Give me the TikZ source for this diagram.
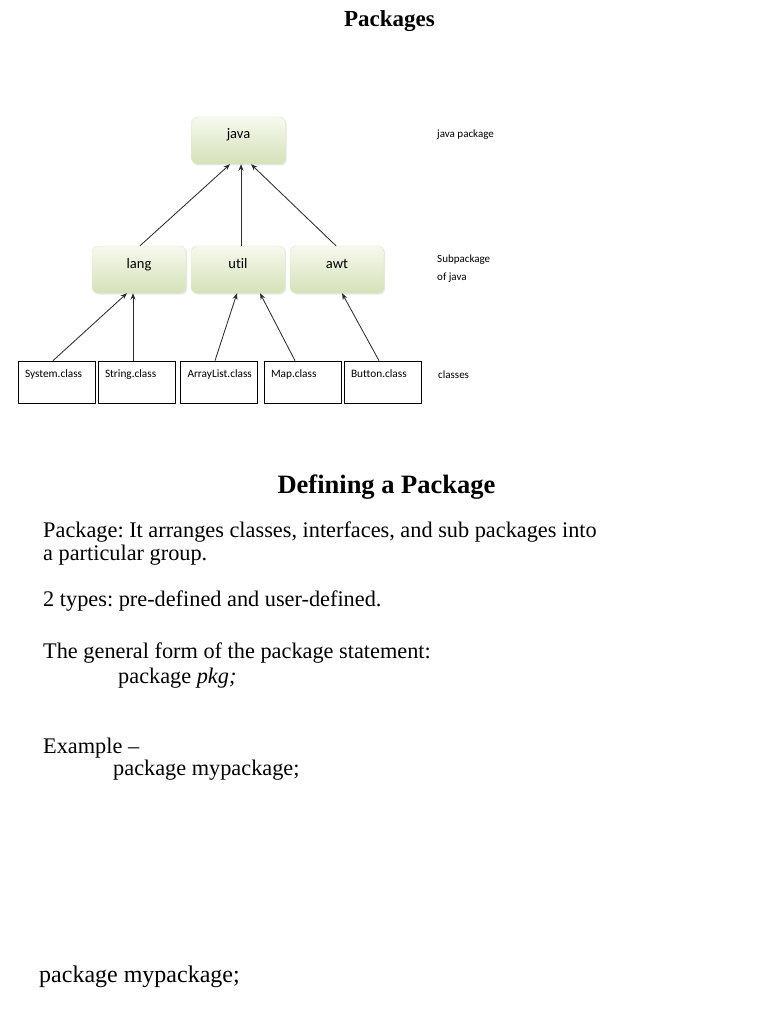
\documentclass[tikz,border=0pt]{standalone}
\usepackage{fontspec}
\setmainfont{Liberation Serif}
\newfontfamily\diagfont[Ligatures={NoCommon}]{Carlito}
\usepackage{tikz}
\usetikzlibrary{arrows.meta, shadows}
\definecolor{pkgtop}{RGB}{246, 249, 238}
\definecolor{pkgbottom}{RGB}{212, 226, 185}
\definecolor{pkgedge}{RGB}{220, 231, 201}
\definecolor{linkgray}{RGB}{45, 45, 45}
\frenchspacing

\begin{document}
\begin{tikzpicture}[x=1pt, y=-1pt,
		pkgbox/.style={rounded corners=6pt, draw=pkgedge, top color=pkgtop, bottom color=pkgbottom,
			drop shadow={shadow xshift=1.2pt, shadow yshift=-1.5pt, fill=black!18},
			minimum width=94pt, minimum height=47pt, inner sep=0pt,
			text height=10pt, text depth=13pt, font=\diagfont\fontsize{14.5}{16}\selectfont},
		classbox/.style={draw=black, line width=0.7pt, minimum width=77pt, minimum height=42pt,
			text width=63pt, align=left, inner xsep=7pt, inner ysep=0pt,
			text height=9pt, text depth=19pt, font=\diagfont\fontsize{11.3}{13}\selectfont},
		sidetext/.style={anchor=base west, inner sep=0pt, font=\diagfont\fontsize{11}{12.5}\selectfont},
		link/.style={draw=linkgray, line width=0.85pt, -{Stealth[length=6.5pt, width=5pt]}},
		body/.style={anchor=base west, inner sep=0pt, font=\fontsize{22.3}{24}\selectfont}]
	\useasboundingbox (0,0) rectangle (768,1024);
	
	% Title
	\node[anchor=base, inner sep=0pt, font=\bfseries\fontsize{23}{26}\selectfont] (title) at (389.5,27) {Packages};
	
	% Package boxes
	\node[pkgbox] (java) at (238.5,140.5) {java};
	\node[pkgbox] (lang) at (139,269.5) {lang};
	\node[pkgbox] (util) at (238,269.5) {util};
	\node[pkgbox] (awt) at (337,269.5) {awt};
	
	% Class boxes
	\node[classbox] (system) at (56.5,382) {System.class};
	\node[classbox] (string) at (136.5,382) {String.class};
	\node[classbox] (arraylist) at (219,382) {ArrayList.class};
	\node[classbox] (map) at (302.5,382) {Map.class};
	\node[classbox] (button) at (382.5,382) {Button.class};
	
	% Side labels
	\node[sidetext] (javalbl) at (437,138) {java package};
	\node[sidetext] (sublbl) at (437,262) {Subpackage};
	\node[sidetext] (oflbl) at (437,280) {of java};
	\node[sidetext] (classlbl) at (438,378) {classes};
	
	% Subpackages to java
	\draw[link] ([xshift=1pt]lang.north) -- ([xshift=-8.5pt]java.south);
	\draw[link] ([xshift=3pt]util.north) -- ([xshift=2.5pt]java.south);
	\draw[link] ([xshift=-1pt]awt.north) -- ([xshift=12.5pt]java.south);
	
	% Classes to subpackages
	\draw[link] ([xshift=-3.5pt]system.north) -- ([xshift=-12pt]lang.south);
	\draw[link] ([xshift=-3.5pt]string.north) -- ([xshift=-6pt]lang.south);
	\draw[link] ([xshift=-4pt]arraylist.north) -- ([xshift=-1pt]util.south);
	\draw[link] ([xshift=-7.5pt]map.north) -- ([xshift=22pt]util.south);
	\draw[link] ([xshift=-3.5pt]button.north) -- ([xshift=5pt]awt.south);
	
	% Defining a Package
	\node[anchor=base, inner sep=0pt, font=\bfseries\fontsize{26.5}{30}\selectfont] (heading) at (386.5,493) {Defining a Package};
	\node[body] (def1) at (43,537) {Package: It arranges classes, interfaces, and sub packages into};
	\node[body] (def2) at (43,560) {a particular group.};
	\node[body] (types) at (43,606) {2 types: pre-defined and user-defined.};
	\node[body] (form) at (43,658) {The general form of the package statement:};
	\node[body] (formcode) at (118,683) {package \textit{pkg;}};
	\node[body] (example) at (43,753) {Example --};
	\node[body] (excode) at (113,775) {package mypackage;};
	\node[body, font=\fontsize{24}{26}\selectfont] (lastcode) at (39,982) {package mypackage;};
\end{tikzpicture}
\end{document}
